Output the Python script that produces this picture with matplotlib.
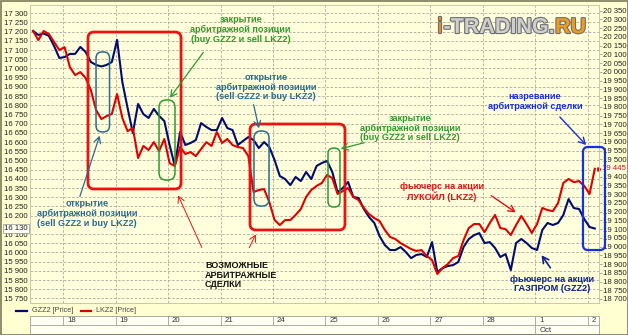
import matplotlib
matplotlib.use("Agg")
import matplotlib.pyplot as plt
import numpy as np
from matplotlib.patches import FancyBboxPatch, FancyArrowPatch, Rectangle
from matplotlib.lines import Line2D
from matplotlib.transforms import IdentityTransform, blended_transform_factory
from matplotlib.ticker import FixedLocator, FuncFormatter
import matplotlib.patheffects as pe

# ---------------- data ----------------
days = ["18", "19", "20", "21", "24", "25", "26", "27", "28", "1", "2"]
month_label = "Oct"
month_start_day = 9          # index of "1" in days
bars_per_day = 10
first_bar_offset = -0.57     # first bar lies in the previous session (days)

gzz2 = [17204, 17182, 17190, 17177, 17122, 17057, 17062, 17079, 17079, 17117,
        17090, 17035, 17019, 17011, 17019, 17035, 17155, 16926, 16785, 16649,
        16807, 16752, 16731, 16780, 16742, 16714, 16584, 16470, 16655, 16584,
        16595, 16611, 16703, 16682, 16665, 16665, 16731, 16676, 16665, 16584,
        16606, 16627, 16611, 16567, 16600, 16573, 16502, 16415, 16399, 16366,
        16410, 16388, 16437, 16399, 16470, 16486, 16497, 16437, 16328, 16350,
        16383, 16301, 16296, 16236, 16192, 16160, 16089, 16040, 16013, 16013,
        16029, 16002, 15969, 15986, 15991, 15975, 16056, 15893, 15915, 15926,
        15931, 15948, 16029, 16073, 16094, 16105, 16051, 16056, 16024, 15975,
        15991, 15904, 16051, 16073, 16051, 16024, 16013, 16122, 16160, 16149,
        16160, 16203, 16290, 16241, 16236, 16181, 16138, 16130]

lkz2 = [20234, 20182, 20234, 20217, 20171, 20125, 20142, 20028, 19982, 19999,
        19965, 19896, 19782, 19730, 19747, 19759, 19873, 19736, 19661, 19679,
        19507, 19576, 19553, 19598, 19547, 19616, 19478, 19461, 19570, 19530,
        19541, 19518, 19558, 19598, 19576, 19656, 19593, 19616, 19581, 19570,
        19564, 19518, 19312, 19324, 19329, 19255, 19152, 19123, 19152, 19152,
        19181, 19215, 19284, 19324, 19347, 19364, 19410, 19392, 19301, 19318,
        19335, 19284, 19266, 19221, 19186, 19163, 19146, 19095, 19055, 19043,
        19020, 19003, 18986, 18975, 18980, 18946, 18923, 18843, 18877, 18900,
        18934, 18946, 19037, 19106, 19129, 19129, 19083, 19135, 19181, 19106,
        19100, 19066, 19123, 19175, 19129, 19078, 19129, 19221, 19209, 19203,
        19249, 19364, 19387, 19369, 19375, 19347, 19301, 19445]

left_ticks = [v for v in range(15750, 17301, 50) if v != 16150]
right_ticks = [v for v in range(18700, 20351, 50) if v != 19450]
last_gzz2 = gzz2[-1]
last_lkz2 = lkz2[-1]

# ---------------- style ----------------
plt.rcParams["font.family"] = ["Liberation Sans", "DejaVu Sans"]
TICK_FS = 5.6
FIG_BG = "#FFFFD2"
PLOT_BG = "#FFFFDC"
NAVY = "#000C6E"
RED = "#E00000"
BOX_RED = "#EE1111"
TEAL = "#2A6A8E"
GREEN = "#2E9A2E"
BRIGHT_BLUE = "#1530E0"

W, H = 628, 335
fig = plt.figure(figsize=(W / 100, H / 100), dpi=100)
fig.patch.set_facecolor(FIG_BG)


def fbox(x0, y0, x1, y1):
    return [x0 / W, 1 - y1 / H, (x1 - x0) / W, (y1 - y0) / H]


ax = fig.add_axes(fbox(30, 5, 599, 303))
ax.set_facecolor(PLOT_BG)
ax2 = ax.twinx()

t = first_bar_offset + np.arange(len(gzz2)) / bars_per_day
ax.plot(t, gzz2, color=NAVY, lw=1.5, zorder=3, solid_joinstyle="round")
ax2.plot(t, lkz2, color=RED, lw=1.5, zorder=3, solid_joinstyle="round")

ax.set_xlim(-0.629, 10.21)
ax.set_ylim(15725, 17345)
ax2.set_ylim(18677, 20383)

fmt = FuncFormatter(lambda v, p: f"{int(round(v)):,}".replace(",", " "))
ax.yaxis.set_major_locator(FixedLocator(left_ticks))
ax.yaxis.set_major_formatter(fmt)
ax2.yaxis.set_major_locator(FixedLocator(right_ticks))
ax2.yaxis.set_major_formatter(fmt)
ax.set_xticks(range(len(days)))
ax.tick_params(axis="x", length=0, labelbottom=False)
ax.tick_params(axis="y", length=0, pad=1.5, labelsize=TICK_FS, labelcolor="#222222")
ax2.tick_params(axis="y", length=2.0, width=0.6, pad=0.8, labelsize=TICK_FS,
                labelcolor="#222222", color="#A0A0A0")

ax.grid(True, color="#A8A8A0", lw=0.6, ls=(0, (3, 2)))
for a in (ax, ax2):
    for s in a.spines.values():
        s.set_color("#C8C8B0")
        s.set_linewidth(0.6)

# last-value labels
ax.annotate(fmt(last_gzz2, None), xy=(0, last_gzz2),
            xycoords=blended_transform_factory(ax.transAxes, ax.transData),
            xytext=(-1.5, 0), textcoords="offset points", ha="right", va="center",
            fontsize=TICK_FS, color="#222222", zorder=10,
            bbox=dict(boxstyle="square,pad=0.12", fc="#FFFFF4", ec="#909090", lw=0.5))
ax2.annotate(fmt(last_lkz2, None), xy=(1, last_lkz2),
             xycoords=blended_transform_factory(ax2.transAxes, ax2.transData),
             xytext=(2.2, 0), textcoords="offset points", ha="left", va="center",
             fontsize=TICK_FS, color="#D01010", zorder=10,
             bbox=dict(boxstyle="square,pad=0.1", fc="#FFFFE4", ec="none"))
ax2.plot([1.0], [last_lkz2], marker=">", ms=2.5, color="#D01010", clip_on=False,
         transform=blended_transform_factory(ax2.transAxes, ax2.transData))

fig.canvas.draw()
ID = IdentityTransform()


def D(tt, vv):
    return ax.transData.transform((tt, vv))


def rbox(t0, v0, t1, v1, color, lw, r):
    x0, y0 = D(t0, v0)
    x1, y1 = D(t1, v1)
    xl, xr = min(x0, x1), max(x0, x1)
    yb, yt = min(y0, y1), max(y0, y1)
    p = FancyBboxPatch((xl, yb), xr - xl, yt - yb,
                       boxstyle=f"round,pad=0,rounding_size={r}",
                       transform=ID, fill=False, ec=color, lw=lw, zorder=6)
    fig.add_artist(p)


def capsule(t0, v0, t1, v1, color, lw):
    x0, _ = D(t0, v0)
    x1, _ = D(t1, v1)
    rbox(t0, v0, t1, v1, color, lw, abs(x1 - x0) / 2 - 0.5)


def arrow(tA, vA, tB, vB, color, lw=0.9):
    a = FancyArrowPatch(D(tA, vA), D(tB, vB), transform=ID,
                        arrowstyle="->,head_length=0.55,head_width=0.3",
                        mutation_scale=8, color=color, lw=lw, zorder=7)
    fig.add_artist(a)


def label(tt, vv, s, color, ha="center", size=6.6):
    x, y = D(tt, vv)
    fig.text(x, y, s, transform=ID, ha=ha, va="center", color=color,
             fontsize=size, fontweight="bold", linespacing=1.12, zorder=8)


# large red boxes (possible arbitrage trades)
rbox(0.476, 17198, 2.248, 16345, BOX_RED, 2.0, 6)
rbox(3.562, 16698, 5.371, 16122, BOX_RED, 2.0, 6)
# capsules
capsule(0.629, 17090, 0.886, 16655, TEAL, 1.1)
capsule(1.829, 16829, 2.133, 16393, GREEN, 1.1)
capsule(3.638, 16660, 3.924, 16252, TEAL, 1.1)
capsule(5.048, 16567, 5.276, 16247, GREEN, 1.1)
# ripening box
rbox(9.905, 16573, 10.324, 16013, BRIGHT_BLUE, 1.6, 5)

open_txt = "открытие\nарбитражной позиции\n(sell GZZ2 и buy LKZ2)"
close_txt = "закрытие\nарбитражной позиции\n(buy GZZ2 и sell LKZ2)"

label(0.457, 16211, open_txt, TEAL)
arrow(0.305, 16290, 0.714, 16649, TEAL)

label(3.385, 17211, close_txt, GREEN)
arrow(2.705, 17100, 2.006, 16829, GREEN)

label(3.867, 16899, open_txt, TEAL)
arrow(3.619, 16818, 3.743, 16660, TEAL)

label(6.61, 16676, close_txt, GREEN)
arrow(5.79, 16600, 5.24, 16560, GREEN)

label(8.99, 16819, "назревание\nарбитражной сделки", BRIGHT_BLUE)
arrow(9.429, 16747, 10.0, 16573, BRIGHT_BLUE, 1.0)

label(7.213, 16328, "фьючерс на акции\nЛУКОЙЛ (LKZ2)", "#E01010")
arrow(8.114, 16317, 8.667, 16209, "#E01010", 1.0)

label(9.309, 15828, "фьючерс на акции\nГАЗПРОМ (GZZ2)", "#10208C")
arrow(9.314, 15904, 9.086, 15997, "#10208C", 1.2)

label(2.705, 15877, "ВОЗМОЖНЫЕ\nАРБИТРАЖНЫЕ\nСДЕЛКИ", "#111111", ha="left", size=6.5)
arrow(2.667, 16013, 2.171, 16323, BOX_RED, 0.7)
arrow(3.524, 16013, 3.695, 16111, BOX_RED, 0.7)

# logo
stroke = [pe.withStroke(linewidth=1.6, foreground="#6E6E6E")]
x_logo, y_logo = 437, H - 33
parts = [("i", "#F08A1C"), ("-TRADING.", "#CFCFCF"), ("RU", "#F39A1E")]
r = fig.canvas.get_renderer()
for s, c in parts:
    tx = fig.text(x_logo, y_logo, s, transform=ID, fontsize=15.5, fontweight="bold",
                  color=c, ha="left", va="baseline", path_effects=stroke, zorder=9)
    bb = tx.get_window_extent(renderer=r)
    x_logo = bb.x1 + 0.5

# legend row
fig.add_artist(Line2D([16, 27], [H - 311, H - 311], transform=ID, color=NAVY, lw=1.6))
fig.text(31.5, H - 311, "GZZ2 [Price]", transform=ID, fontsize=5.2,
         color="#444444", va="center")
fig.add_artist(Line2D([81, 91], [H - 311, H - 311], transform=ID, color=RED, lw=1.6))
fig.text(95.5, H - 311, "LKZ2 [Price]", transform=ID, fontsize=5.2,
         color="#444444", va="center")

# date strip
x_left, x_right = D(-0.629, 16000)[0], D(10.21, 16000)[0]
fig.add_artist(Rectangle((x_left, H - 334), x_right - x_left, 18, transform=ID,
                         fc="#FFFFF2", ec="#A0A0A0", lw=0.6, zorder=1))
fig.add_artist(Line2D([x_left, x_right], [H - 325, H - 325], transform=ID,
                      color="#A0A0A0", lw=0.6))
for i, d in enumerate(days):
    xd = D(i, 16000)[0]
    fig.add_artist(Line2D([xd, xd], [H - 325, H - 316], transform=ID,
                          color="#A0A0A0", lw=0.6))
    fig.text(xd + 4, H - 321, d, transform=ID, fontsize=5.6,
             color="#333333", va="center", ha="left")
xm = D(month_start_day, 16000)[0]
fig.add_artist(Line2D([xm, xm], [H - 334, H - 325], transform=ID, color="#A0A0A0", lw=0.6))
fig.text(xm + 4, H - 330, month_label, transform=ID, fontsize=5.6,
         color="#333333", va="center", ha="left")

# outer frame
fig.add_artist(Rectangle((0.5, 0.5), W - 1, H - 1, transform=ID, fill=False,
                         ec="#7A7A58", lw=1.2))

fig.savefig("out.png", dpi=100, facecolor=FIG_BG)
